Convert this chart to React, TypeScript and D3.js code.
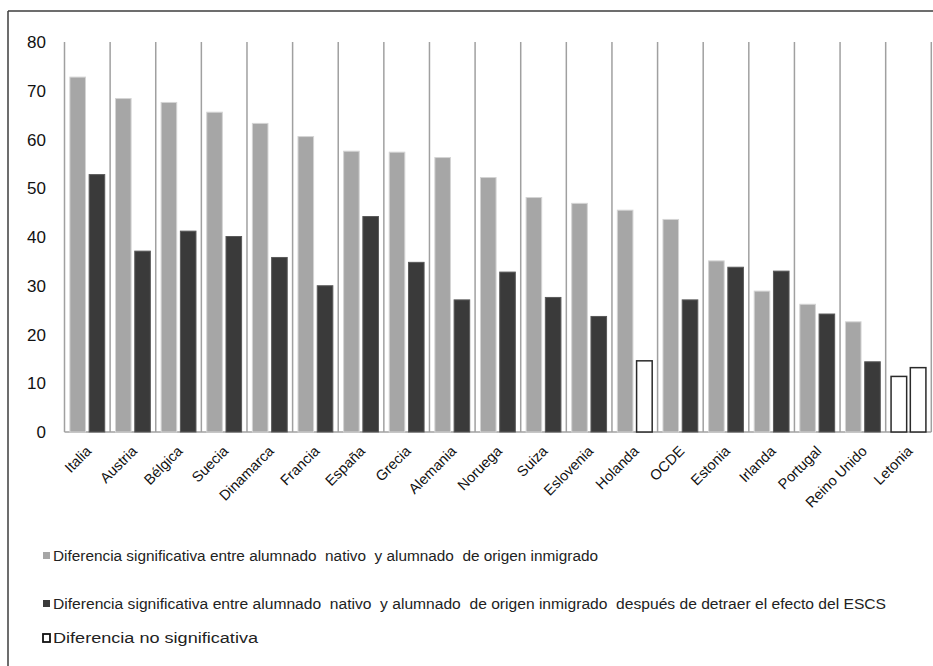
import React from "react";
import * as d3 from "d3";

const countries = ["Italia", "Austria", "Bélgica", "Suecia", "Dinamarca", "Francia", "España", "Grecia", "Alemania", "Noruega", "Suiza", "Eslovenia", "Holanda", "OCDE", "Estonia", "Irlanda", "Portugal", "Reino Unido", "Letonia"];
const gapValues = [72.8, 68.4, 67.6, 65.6, 63.3, 60.6, 57.6, 57.4, 56.3, 52.2, 48.1, 46.9, 45.5, 43.6, 35.1, 28.9, 26.2, 22.6, 11.4];
const gapSignificant = [true, true, true, true, true, true, true, true, true, true, true, true, true, true, true, true, true, true, false];
const escsValues = [52.8, 37.1, 41.2, 40.1, 35.8, 30.0, 44.2, 34.8, 27.1, 32.8, 27.6, 23.7, 14.6, 27.1, 33.8, 33.0, 24.2, 14.4, 13.2];
const escsSignificant = [true, true, true, true, true, true, true, true, true, true, true, true, false, true, true, true, true, true, false];
const yTicks = [0, 10, 20, 30, 40, 50, 60, 70, 80];
const legendLabels = [
  "Diferencia significativa entre alumnado  nativo  y alumnado  de origen inmigrado",
  "Diferencia significativa entre alumnado  nativo  y alumnado  de origen inmigrado  después de detraer el efecto del ESCS",
  "Diferencia no significativa",
];

const W = 933;
const H = 666;
const plotLeft = 64.5;
const plotRight = 931.3;
const plotTop = 42;
const plotBottom = 432;

const GRAY = "#a6a6a6";
const DARK = "#3a3a3a";
const GRID = "#a0a0a0";
const FONT = "'Liberation Sans', Arial, Helvetica, sans-serif";

export default function App() {
  const x = d3.scaleBand<string>().domain(countries).range([plotLeft, plotRight]).paddingInner(0).paddingOuter(0);
  const inner = d3.scaleBand<string>().domain(["gap", "escs"]).range([0, x.bandwidth()]).paddingInner(0.19).paddingOuter(0.28);
  const y = d3.scaleLinear().domain([0, 80]).range([plotBottom, plotTop]);

  const boundaries = countries.map((c) => x(c) as number).concat([plotRight]);

  const barStyle = (sig: boolean, series: string) => {
    if (!sig) return { fill: "#ffffff", stroke: "#2a2a2a", strokeWidth: 1.5 };
    if (series === "gap") return { fill: GRAY, stroke: "#d4d4d4", strokeWidth: 1 };
    return { fill: DARK, stroke: "#5a5a5a", strokeWidth: 1 };
  };

  const legendY = [556, 604, 638];
  const legendSwatch = [
    { fill: GRAY, stroke: "none", sw: 0 },
    { fill: DARK, stroke: "none", sw: 0 },
    { fill: "#ffffff", stroke: "#111", sw: 1.8 },
  ];
  const legendWidths = [545, 833, 205];

  return (
    <svg width={W} height={H} style={{ position: "absolute", left: 0, top: 0, display: "block", background: "#fff" }} fontFamily={FONT}>
      <rect x={0} y={0} width={W} height={H} fill="#fff" />
      {/* outer frame */}
      <line x1={8} y1={11} x2={W} y2={11} stroke="#3c3c3c" strokeWidth={1.5} />
      <line x1={8} y1={11} x2={8} y2={H} stroke="#3c3c3c" strokeWidth={1.5} />

      {/* vertical gridlines */}
      {boundaries.map((bx, i) => (
        <line key={"g" + i} x1={bx} x2={bx} y1={y(80)} y2={y(0)} stroke={GRID} strokeWidth={1.5} />
      ))}
      {/* baseline */}
      <line x1={plotLeft} x2={plotRight} y1={y(0)} y2={y(0)} stroke={GRID} strokeWidth={1.5} />

      {/* bars */}
      {countries.map((c, i) => {
        const x0 = x(c) as number;
        const s1 = barStyle(gapSignificant[i], "gap");
        const s2 = barStyle(escsSignificant[i], "escs");
        return (
          <g key={c}>
            <rect x={x0 + (inner("gap") as number)} y={y(gapValues[i])} width={inner.bandwidth()} height={y(0) - y(gapValues[i])} fill={s1.fill} stroke={s1.stroke} strokeWidth={s1.strokeWidth} />
            <rect x={x0 + (inner("escs") as number)} y={y(escsValues[i])} width={inner.bandwidth()} height={y(0) - y(escsValues[i])} fill={s2.fill} stroke={s2.stroke} strokeWidth={s2.strokeWidth} />
          </g>
        );
      })}

      {/* y tick labels */}
      {yTicks.map((t) => (
        <text key={"t" + t} x={46} y={y(t)} dy="0.36em" textAnchor="end" fontSize={17} fill="#111">
          {t}
        </text>
      ))}

      {/* x labels */}
      {countries.map((c) => {
        const cx = (x(c) as number) + x.bandwidth() / 2;
        return (
          <text key={"l" + c} transform={`translate(${cx + 5},${452}) rotate(-45)`} textAnchor="end" fontSize={14.5} fill="#111">
            {c}
          </text>
        );
      })}

      {/* legend */}
      {legendLabels.map((lab, i) => (
        <g key={"lg" + i}>
          <rect x={43} y={legendY[i] - 4} width={7} height={i === 2 ? 8 : 7} fill={legendSwatch[i].fill} stroke={legendSwatch[i].stroke} strokeWidth={legendSwatch[i].sw} />
          <text x={53} y={legendY[i]} dy="0.35em" fontSize={14} fill="#222" textLength={legendWidths[i]} lengthAdjust="spacingAndGlyphs" xmlSpace="preserve">
            {lab}
          </text>
        </g>
      ))}
    </svg>
  );
}
